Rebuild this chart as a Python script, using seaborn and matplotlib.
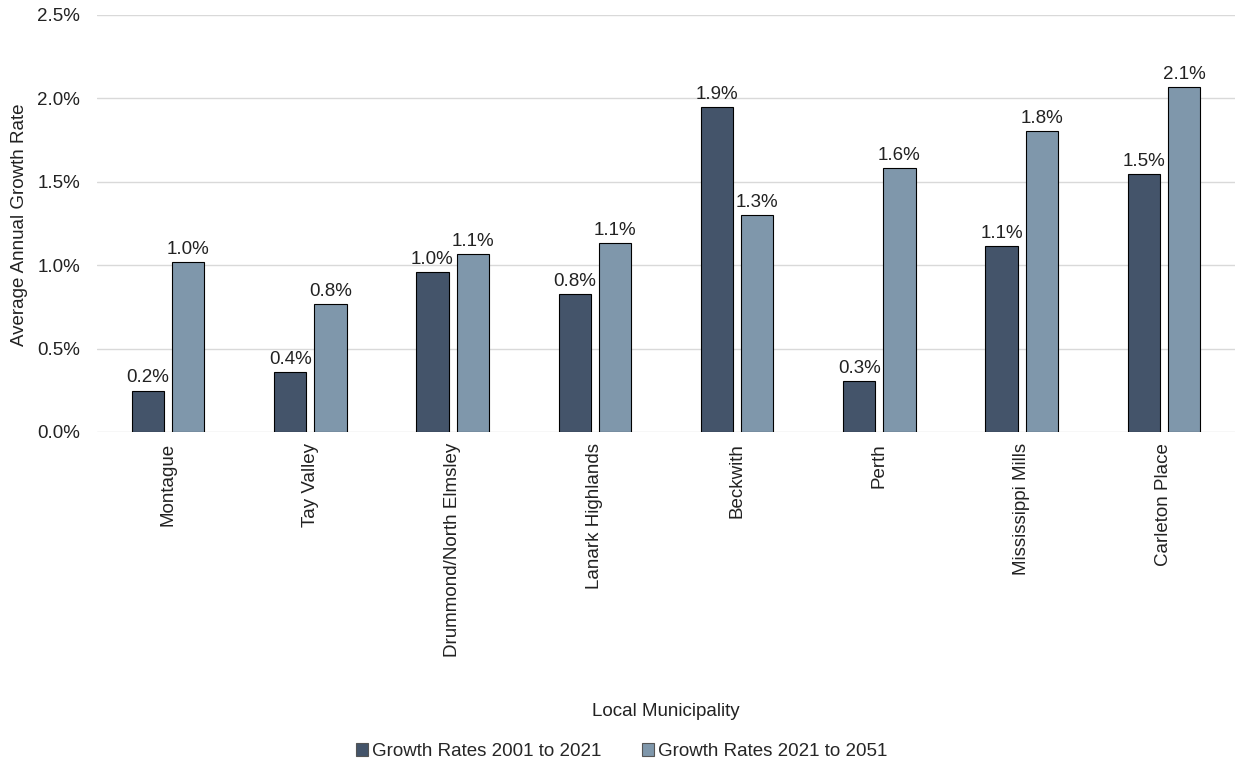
import pandas as pd
import matplotlib
matplotlib.use('Agg')
import matplotlib.pyplot as plt
import seaborn as sns
from matplotlib.ticker import FuncFormatter

# Datos (tasa media anual, en %)
municipios = ['Montague', 'Tay Valley', 'Drummond/North Elmsley', 'Lanark Highlands',
              'Beckwith', 'Perth', 'Mississippi Mills', 'Carleton Place']
tasas_2001_2021 = [0.248, 0.36, 0.959, 0.827, 1.948, 0.306, 1.115, 1.547]
tasas_2021_2051 = [1.019, 0.767, 1.067, 1.133, 1.301, 1.583, 1.805, 2.068]
series = ['Growth Rates 2001 to 2021', 'Growth Rates 2021 to 2051']

sns.set_style("white")
plt.rcParams['font.family'] = ['Liberation Sans', 'DejaVu Sans']
fs = 13.5

df = pd.DataFrame({
    'Municipio': municipios * 2,
    'Tasa': tasas_2001_2021 + tasas_2021_2051,
    'Serie': [series[0]] * len(municipios) + [series[1]] * len(municipios),
})

fig = plt.figure(figsize=(12.35, 7.67), dpi=100)
ax = fig.add_axes([0.0785, 0.4368, 0.9215, 0.5437])

sns.barplot(data=df, x='Municipio', y='Tasa', hue='Serie',
            palette=['#44546A', '#7F97AB'], saturation=1, width=0.565, gap=0.2,
            edgecolor='black', linewidth=0.8, ax=ax)

for cont in ax.containers:
    ax.bar_label(cont, fmt='%.1f%%', padding=3, fontsize=fs, color='#222222')

ax.set_ylim(0, 2.5)
ax.set_yticks([0, 0.5, 1.0, 1.5, 2.0, 2.5])
ax.yaxis.set_major_formatter(FuncFormatter(lambda v, p: f'{v:.1f}%'))
ax.grid(axis='y', color='#D9D9D9', linewidth=1)
ax.set_axisbelow(True)
sns.despine(ax=ax, left=True, bottom=True, top=True, right=True)

ax.tick_params(axis='x', labelrotation=90, labelsize=fs, length=0, pad=8, labelcolor='#222222')
ax.tick_params(axis='y', labelsize=fs, length=0, pad=12, labelcolor='#222222')
ax.set_xlim(-0.5, 7.5)

ax.set_ylabel('Average Annual Growth Rate', fontsize=fs, color='#222222', va='center')
ax.yaxis.set_label_coords(-0.068, 0.497)
ax.set_xlabel('Local Municipality', fontsize=fs, color='#222222', va='center')
ax.xaxis.set_label_coords(0.5, -0.671)

leg = ax.legend(loc='center', bbox_to_anchor=(0.461, -0.767), ncol=2, frameon=False,
                fontsize=fs, handlelength=0.65, handleheight=0.65, handletextpad=0.2,
                columnspacing=2.2)
for h in leg.legend_handles:
    h.set_edgecolor('#555555')

plt.savefig('out.png', dpi=100)
plt.close()
